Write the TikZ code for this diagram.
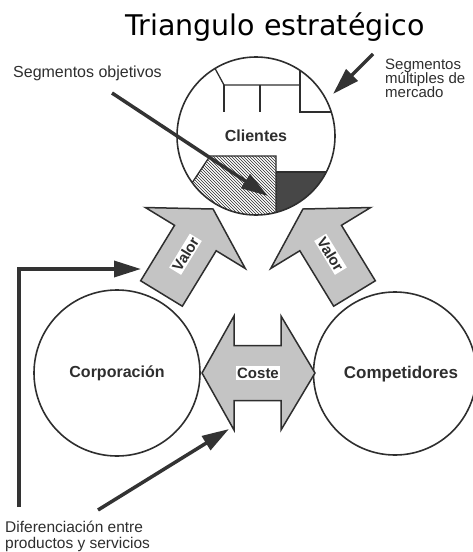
\documentclass[tikz,border=0pt]{standalone}
\usepackage{fontspec}
\setmainfont{Liberation Sans}
\newfontfamily\titlefont{DejaVu Sans}
\usetikzlibrary{arrows.meta,patterns}
\definecolor{ink}{HTML}{2E2E2E}
\definecolor{halftone}{HTML}{C4C4C4}
\begin{document}
\begin{tikzpicture}[x=1pt,y=-1pt,
  ring/.style={circle, draw=ink, line width=1.6pt, minimum size=#1, inner sep=0pt},
  thin/.style={draw=ink, line width=1.3pt},
  bold/.style={font=\fontsize{16}{18}\selectfont\bfseries, text=ink},
  tag/.style={font=\fontsize{15}{16}\selectfont\bfseries, text=ink, fill=white, inner sep=1.5pt},
  note/.style={font=\fontsize{#1}{#1}\selectfont, text=ink, align=left, inner sep=0pt},
  fat/.style={draw=ink, line width=1.5pt, fill=halftone, line join=miter},
  pointer/.style={draw=black!80, line width=3.5pt, -{Triangle[length=27pt,width=16pt]}}
]
\useasboundingbox (0,0) rectangle (472,552);

% title
\node[anchor=base, font=\titlefont\fontsize{28.5}{30}\selectfont] (title) at (275,35) {Triangulo estratégico};

% regions inside Clientes circle
\begin{scope}
  \clip (256,136) circle (79);
  \fill[white] (210,156) -- (174,210) -- (174,240) -- (276,240) -- (276,156) -- cycle;
  \fill[pattern=north west lines, pattern color=ink] (210,156) -- (174,210) -- (174,240) -- (276,240) -- (276,156) -- cycle;
  \fill[black!72] (276,172) rectangle (345,240);
  \draw[thin] (174,210) -- (210,156) -- (276,156) -- (276,240);
  \draw[thin] (276,172) -- (345,172);
  \draw[thin] (205,50) -- (224,85) -- (300,85);
  \draw[thin] (224,85) -- (224,112);
  \draw[thin] (260,85) -- (260,112);
  \draw[thin] (300,40) -- (300,112) -- (345,112);
\end{scope}
\node[ring=158pt, bold] (cli) at (256,136) {Clientes};

% bottom circles
\node[ring=166pt, bold] (corp) at (117,373) {Corporación};
\node[ring=163pt] (comp) at (395,373.5) {};
\node[bold, font=\fontsize{17}{18}\selectfont\bfseries] (compT) at (401,374) {Competidores};

% Valor arrows
\begin{scope}[shift={(161.5,293.5)}, rotate=58.6]
  \path[fat] (0,-24.4) -- (65,-24.4) -- (65,-58.5) -- (99,0) -- (65,58.5) -- (65,24.4) -- (0,24.4) -- cycle;
  \node[tag, rotate=58.6] (v1) at (46,0) {Valor};
\end{scope}
\begin{scope}[shift={(354.5,293.5)}, rotate=121.4]
  \path[fat] (0,-24.4) -- (65,-24.4) -- (65,-58.5) -- (99,0) -- (65,58.5) -- (65,24.4) -- (0,24.4) -- cycle;
  \node[tag, rotate=-58.6] (v2) at (46,0) {Valor};
\end{scope}

% Coste double arrow
\path[fat] (202,373) -- (234,316) -- (234,345.5) -- (281,345.5) -- (281,316) -- (315,373)
  -- (281,430) -- (281,400.5) -- (234,400.5) -- (234,430) -- cycle;
\node[tag] (coste) at (258,373) {Coste};

% annotations
\node[note=16, anchor=west] (so) at (13,73) {Segmentos objetivos};
\coordinate (soA) at (112,93);
\coordinate (soB) at (268,196);
\draw[pointer] (soA) -- (soB);

\node[note=15, anchor=north west] (sm) at (385,59) {Segmentos\\[-1pt] múltiples de\\[-1pt] mercado};
\coordinate (smA) at (373,54);
\coordinate (smB) at (333,94);
\draw[pointer] (smA) -- (smB);

\node[note=15.5, anchor=north west] (dif) at (5,521) {Diferenciación entre\\[0pt] productos y servicios};
\coordinate (dA) at (19,507);
\coordinate (dB) at (141,269);
\draw[pointer] (dA) |- (dB);
\coordinate (dC) at (98,510);
\coordinate (dD) at (229,429);
\draw[pointer] (dC) -- (dD);
\end{tikzpicture}
\end{document}
